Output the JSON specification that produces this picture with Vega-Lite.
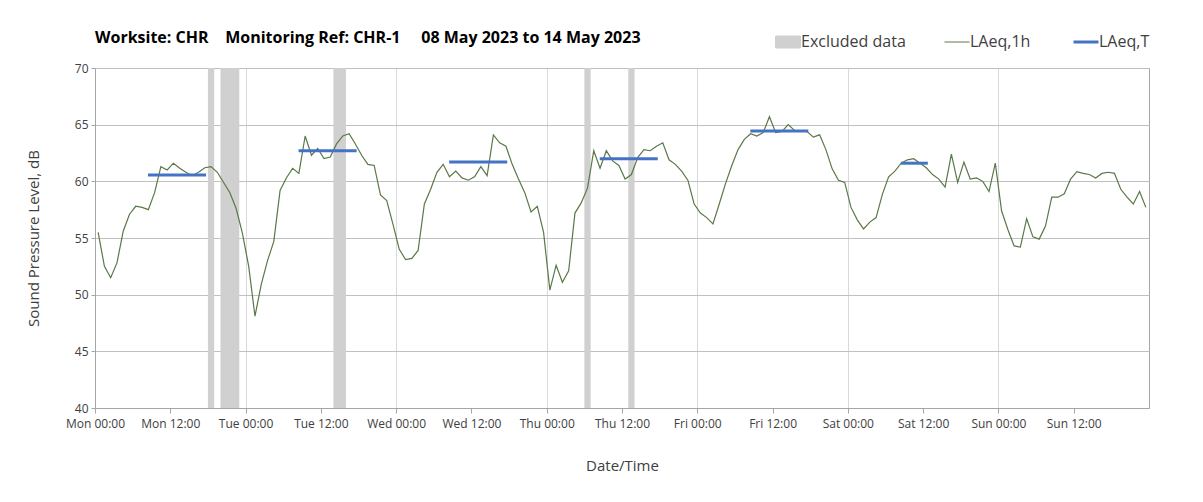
{
  "$schema": "https://vega.github.io/schema/vega-lite/v6.json",
  "width": 1054,
  "height": 340,
  "autosize": {"type": "none"},
  "padding": {"left": 95, "top": 68, "right": 54, "bottom": 94},
  "background": "white",
  "config": {
    "font": "Open Sans",
    "view": {"stroke": "#a6a6a6", "strokeWidth": 1}
  },
  "title": {
    "text": "Worksite: CHR\u00a0\u00a0\u00a0\u00a0Monitoring Ref: CHR-1\u00a0\u00a0\u00a0\u00a0\u00a008 May 2023 to 14 May 2023",
    "anchor": "start",
    "frame": "group",
    "fontSize": 16,
    "fontWeight": "bold",
    "color": "#000000",
    "font": "Open Sans",
    "offset": -12
  },
  "datasets": {
    "excluded": [
      {"s": "2023-05-08T18:00:00Z", "e": "2023-05-08T19:00:00Z"},
      {"s": "2023-05-08T20:00:00Z", "e": "2023-05-08T23:00:00Z"},
      {"s": "2023-05-09T14:00:00Z", "e": "2023-05-09T16:00:00Z"},
      {"s": "2023-05-11T06:00:00Z", "e": "2023-05-11T07:00:00Z"},
      {"s": "2023-05-11T13:00:00Z", "e": "2023-05-11T14:00:00Z"}
    ],
    "laeqT": [
      {"s": "2023-05-08T08:27:00Z", "e": "2023-05-08T17:42:00Z", "v": 60.55},
      {"s": "2023-05-09T08:27:00Z", "e": "2023-05-09T17:42:00Z", "v": 62.7},
      {"s": "2023-05-10T08:27:00Z", "e": "2023-05-10T17:42:00Z", "v": 61.7},
      {"s": "2023-05-11T08:27:00Z", "e": "2023-05-11T17:42:00Z", "v": 62.0},
      {"s": "2023-05-12T08:27:00Z", "e": "2023-05-12T17:42:00Z", "v": 64.45},
      {"s": "2023-05-13T08:27:00Z", "e": "2023-05-13T12:45:00Z", "v": 61.6}
    ],
    "laeq1h": [
      {"t": "2023-05-08T00:30:00Z", "v": 55.5}, {"t": "2023-05-08T01:30:00Z", "v": 52.5}, {"t": "2023-05-08T02:30:00Z", "v": 51.5}, {"t": "2023-05-08T03:30:00Z", "v": 52.8},
      {"t": "2023-05-08T04:30:00Z", "v": 55.6}, {"t": "2023-05-08T05:30:00Z", "v": 57.1}, {"t": "2023-05-08T06:30:00Z", "v": 57.8}, {"t": "2023-05-08T07:30:00Z", "v": 57.7},
      {"t": "2023-05-08T08:30:00Z", "v": 57.5}, {"t": "2023-05-08T09:30:00Z", "v": 59.0}, {"t": "2023-05-08T10:30:00Z", "v": 61.3}, {"t": "2023-05-08T11:30:00Z", "v": 61.0},
      {"t": "2023-05-08T12:30:00Z", "v": 61.6}, {"t": "2023-05-08T13:30:00Z", "v": 61.15}, {"t": "2023-05-08T14:30:00Z", "v": 60.8}, {"t": "2023-05-08T15:30:00Z", "v": 60.5},
      {"t": "2023-05-08T16:30:00Z", "v": 60.8}, {"t": "2023-05-08T17:30:00Z", "v": 61.2}, {"t": "2023-05-08T18:30:00Z", "v": 61.3}, {"t": "2023-05-08T19:30:00Z", "v": 60.8},
      {"t": "2023-05-08T20:30:00Z", "v": 59.9}, {"t": "2023-05-08T21:30:00Z", "v": 59.0}, {"t": "2023-05-08T22:30:00Z", "v": 57.6}, {"t": "2023-05-08T23:30:00Z", "v": 55.4},
      {"t": "2023-05-09T00:30:00Z", "v": 52.5}, {"t": "2023-05-09T01:30:00Z", "v": 48.1}, {"t": "2023-05-09T02:30:00Z", "v": 50.9}, {"t": "2023-05-09T03:30:00Z", "v": 53.0},
      {"t": "2023-05-09T04:30:00Z", "v": 54.7}, {"t": "2023-05-09T05:30:00Z", "v": 59.2}, {"t": "2023-05-09T06:30:00Z", "v": 60.3}, {"t": "2023-05-09T07:30:00Z", "v": 61.15},
      {"t": "2023-05-09T08:30:00Z", "v": 60.7}, {"t": "2023-05-09T09:30:00Z", "v": 64.0}, {"t": "2023-05-09T10:30:00Z", "v": 62.3}, {"t": "2023-05-09T11:30:00Z", "v": 62.9},
      {"t": "2023-05-09T12:30:00Z", "v": 62.0}, {"t": "2023-05-09T13:30:00Z", "v": 62.15}, {"t": "2023-05-09T14:30:00Z", "v": 63.3}, {"t": "2023-05-09T15:30:00Z", "v": 64.0},
      {"t": "2023-05-09T16:30:00Z", "v": 64.2}, {"t": "2023-05-09T17:30:00Z", "v": 63.3}, {"t": "2023-05-09T18:30:00Z", "v": 62.3}, {"t": "2023-05-09T19:30:00Z", "v": 61.5},
      {"t": "2023-05-09T20:30:00Z", "v": 61.4}, {"t": "2023-05-09T21:30:00Z", "v": 58.8}, {"t": "2023-05-09T22:30:00Z", "v": 58.3}, {"t": "2023-05-09T23:30:00Z", "v": 56.2},
      {"t": "2023-05-10T00:30:00Z", "v": 54.0}, {"t": "2023-05-10T01:30:00Z", "v": 53.1}, {"t": "2023-05-10T02:30:00Z", "v": 53.2}, {"t": "2023-05-10T03:30:00Z", "v": 53.9},
      {"t": "2023-05-10T04:30:00Z", "v": 58.0}, {"t": "2023-05-10T05:30:00Z", "v": 59.3}, {"t": "2023-05-10T06:30:00Z", "v": 60.8}, {"t": "2023-05-10T07:30:00Z", "v": 61.5},
      {"t": "2023-05-10T08:30:00Z", "v": 60.4}, {"t": "2023-05-10T09:30:00Z", "v": 60.9}, {"t": "2023-05-10T10:30:00Z", "v": 60.3}, {"t": "2023-05-10T11:30:00Z", "v": 60.1},
      {"t": "2023-05-10T12:30:00Z", "v": 60.4}, {"t": "2023-05-10T13:30:00Z", "v": 61.3}, {"t": "2023-05-10T14:30:00Z", "v": 60.5}, {"t": "2023-05-10T15:30:00Z", "v": 64.1},
      {"t": "2023-05-10T16:30:00Z", "v": 63.4}, {"t": "2023-05-10T17:30:00Z", "v": 63.1}, {"t": "2023-05-10T18:30:00Z", "v": 61.5}, {"t": "2023-05-10T19:30:00Z", "v": 60.2},
      {"t": "2023-05-10T20:30:00Z", "v": 59.0}, {"t": "2023-05-10T21:30:00Z", "v": 57.3}, {"t": "2023-05-10T22:30:00Z", "v": 57.8}, {"t": "2023-05-10T23:30:00Z", "v": 55.5},
      {"t": "2023-05-11T00:30:00Z", "v": 50.4}, {"t": "2023-05-11T01:30:00Z", "v": 52.6}, {"t": "2023-05-11T02:30:00Z", "v": 51.1}, {"t": "2023-05-11T03:30:00Z", "v": 52.1},
      {"t": "2023-05-11T04:30:00Z", "v": 57.2}, {"t": "2023-05-11T05:30:00Z", "v": 58.1}, {"t": "2023-05-11T06:30:00Z", "v": 59.4}, {"t": "2023-05-11T07:30:00Z", "v": 62.7},
      {"t": "2023-05-11T08:30:00Z", "v": 61.15}, {"t": "2023-05-11T09:30:00Z", "v": 62.7}, {"t": "2023-05-11T10:30:00Z", "v": 61.8}, {"t": "2023-05-11T11:30:00Z", "v": 61.4},
      {"t": "2023-05-11T12:30:00Z", "v": 60.2}, {"t": "2023-05-11T13:30:00Z", "v": 60.6}, {"t": "2023-05-11T14:30:00Z", "v": 62.1}, {"t": "2023-05-11T15:30:00Z", "v": 62.8},
      {"t": "2023-05-11T16:30:00Z", "v": 62.7}, {"t": "2023-05-11T17:30:00Z", "v": 63.1}, {"t": "2023-05-11T18:30:00Z", "v": 63.4}, {"t": "2023-05-11T19:30:00Z", "v": 61.9},
      {"t": "2023-05-11T20:30:00Z", "v": 61.5}, {"t": "2023-05-11T21:30:00Z", "v": 60.9}, {"t": "2023-05-11T22:30:00Z", "v": 60.1}, {"t": "2023-05-11T23:30:00Z", "v": 58.0},
      {"t": "2023-05-12T00:30:00Z", "v": 57.2}, {"t": "2023-05-12T01:30:00Z", "v": 56.8}, {"t": "2023-05-12T02:30:00Z", "v": 56.25}, {"t": "2023-05-12T03:30:00Z", "v": 58.0},
      {"t": "2023-05-12T04:30:00Z", "v": 59.8}, {"t": "2023-05-12T05:30:00Z", "v": 61.4}, {"t": "2023-05-12T06:30:00Z", "v": 62.8}, {"t": "2023-05-12T07:30:00Z", "v": 63.7},
      {"t": "2023-05-12T08:30:00Z", "v": 64.2}, {"t": "2023-05-12T09:30:00Z", "v": 64.0}, {"t": "2023-05-12T10:30:00Z", "v": 64.3}, {"t": "2023-05-12T11:30:00Z", "v": 65.7},
      {"t": "2023-05-12T12:30:00Z", "v": 64.3}, {"t": "2023-05-12T13:30:00Z", "v": 64.4}, {"t": "2023-05-12T14:30:00Z", "v": 65.0}, {"t": "2023-05-12T15:30:00Z", "v": 64.5},
      {"t": "2023-05-12T16:30:00Z", "v": 64.45}, {"t": "2023-05-12T17:30:00Z", "v": 64.4}, {"t": "2023-05-12T18:30:00Z", "v": 63.9}, {"t": "2023-05-12T19:30:00Z", "v": 64.1},
      {"t": "2023-05-12T20:30:00Z", "v": 62.8}, {"t": "2023-05-12T21:30:00Z", "v": 61.1}, {"t": "2023-05-12T22:30:00Z", "v": 60.1}, {"t": "2023-05-12T23:30:00Z", "v": 59.9},
      {"t": "2023-05-13T00:30:00Z", "v": 57.7}, {"t": "2023-05-13T01:30:00Z", "v": 56.6}, {"t": "2023-05-13T02:30:00Z", "v": 55.8}, {"t": "2023-05-13T03:30:00Z", "v": 56.4},
      {"t": "2023-05-13T04:30:00Z", "v": 56.8}, {"t": "2023-05-13T05:30:00Z", "v": 58.85}, {"t": "2023-05-13T06:30:00Z", "v": 60.4}, {"t": "2023-05-13T07:30:00Z", "v": 60.9},
      {"t": "2023-05-13T08:30:00Z", "v": 61.6}, {"t": "2023-05-13T09:30:00Z", "v": 61.9}, {"t": "2023-05-13T10:30:00Z", "v": 62.0}, {"t": "2023-05-13T11:30:00Z", "v": 61.6},
      {"t": "2023-05-13T12:30:00Z", "v": 61.2}, {"t": "2023-05-13T13:30:00Z", "v": 60.6}, {"t": "2023-05-13T14:30:00Z", "v": 60.2}, {"t": "2023-05-13T15:30:00Z", "v": 59.5},
      {"t": "2023-05-13T16:30:00Z", "v": 62.4}, {"t": "2023-05-13T17:30:00Z", "v": 59.9}, {"t": "2023-05-13T18:30:00Z", "v": 61.7}, {"t": "2023-05-13T19:30:00Z", "v": 60.2},
      {"t": "2023-05-13T20:30:00Z", "v": 60.3}, {"t": "2023-05-13T21:30:00Z", "v": 60.0}, {"t": "2023-05-13T22:30:00Z", "v": 59.1}, {"t": "2023-05-13T23:30:00Z", "v": 61.6},
      {"t": "2023-05-14T00:30:00Z", "v": 57.4}, {"t": "2023-05-14T01:30:00Z", "v": 55.75}, {"t": "2023-05-14T02:30:00Z", "v": 54.3}, {"t": "2023-05-14T03:30:00Z", "v": 54.2},
      {"t": "2023-05-14T04:30:00Z", "v": 56.7}, {"t": "2023-05-14T05:30:00Z", "v": 55.1}, {"t": "2023-05-14T06:30:00Z", "v": 54.9}, {"t": "2023-05-14T07:30:00Z", "v": 56.05},
      {"t": "2023-05-14T08:30:00Z", "v": 58.6}, {"t": "2023-05-14T09:30:00Z", "v": 58.6}, {"t": "2023-05-14T10:30:00Z", "v": 58.9}, {"t": "2023-05-14T11:30:00Z", "v": 60.2},
      {"t": "2023-05-14T12:30:00Z", "v": 60.85}, {"t": "2023-05-14T13:30:00Z", "v": 60.7}, {"t": "2023-05-14T14:30:00Z", "v": 60.6}, {"t": "2023-05-14T15:30:00Z", "v": 60.3},
      {"t": "2023-05-14T16:30:00Z", "v": 60.7}, {"t": "2023-05-14T17:30:00Z", "v": 60.8}, {"t": "2023-05-14T18:30:00Z", "v": 60.7}, {"t": "2023-05-14T19:30:00Z", "v": 59.3},
      {"t": "2023-05-14T20:30:00Z", "v": 58.6}, {"t": "2023-05-14T21:30:00Z", "v": 58.0}, {"t": "2023-05-14T22:30:00Z", "v": 59.1}, {"t": "2023-05-14T23:30:00Z", "v": 57.7}
    ]
  },
  "layer": [
    {
      "data": {"name": "excluded"},
      "mark": {"type": "rect"},
      "encoding": {
        "x": {
          "field": "s",
          "type": "temporal",
          "scale": {
            "type": "utc",
            "domain": [
              {"year": 2023, "month": 5, "date": 8, "hours": 0, "utc": true},
              {"year": 2023, "month": 5, "date": 15, "hours": 0, "utc": true}
            ]
          },
          "axis": {
            "orient": "bottom",
            "values": [
              {"year": 2023, "month": 5, "date": 8, "hours": 0, "utc": true},
              {"year": 2023, "month": 5, "date": 8, "hours": 12, "utc": true},
              {"year": 2023, "month": 5, "date": 9, "hours": 0, "utc": true},
              {"year": 2023, "month": 5, "date": 9, "hours": 12, "utc": true},
              {"year": 2023, "month": 5, "date": 10, "hours": 0, "utc": true},
              {"year": 2023, "month": 5, "date": 10, "hours": 12, "utc": true},
              {"year": 2023, "month": 5, "date": 11, "hours": 0, "utc": true},
              {"year": 2023, "month": 5, "date": 11, "hours": 12, "utc": true},
              {"year": 2023, "month": 5, "date": 12, "hours": 0, "utc": true},
              {"year": 2023, "month": 5, "date": 12, "hours": 12, "utc": true},
              {"year": 2023, "month": 5, "date": 13, "hours": 0, "utc": true},
              {"year": 2023, "month": 5, "date": 13, "hours": 12, "utc": true},
              {"year": 2023, "month": 5, "date": 14, "hours": 0, "utc": true},
              {"year": 2023, "month": 5, "date": 14, "hours": 12, "utc": true}
            ],
            "labelExpr": "utcFormat(datum.value, '%a %H:%M')",
            "grid": true,
            "gridColor": "#d9d9d9",
            "gridOpacity": {"condition": {"test": "utchours(datum.value) === 0", "value": 1}, "value": 0},
            "labelFontSize": 12,
            "labelColor": "#404040",
            "labelPadding": 5,
            "labelFlush": false,
            "labelOverlap": false,
            "tickColor": "#a6a6a6",
            "tickSize": 5,
            "domainColor": "#a6a6a6",
            "title": "Date/Time",
            "titleFontSize": 15,
            "titleFontWeight": "normal",
            "titleColor": "#404040",
            "titlePadding": 29
          }
        },
        "x2": {"field": "e"},
        "color": {
          "datum": "Excluded data",
          "scale": {
            "domain": ["Excluded data", "LAeq,1h", "LAeq,T"],
            "range": ["#d0d0d0", "#5a7848", "#4472c4"]
          },
          "legend": {
            "orient": "none",
            "legendX": 685,
            "legendY": -34,
            "direction": "horizontal",
            "title": null,
            "labelFontSize": 16,
            "labelColor": "#404040",
            "labelOffset": 5,
            "symbolSize": 625,
            "columnPadding": 36,
            "gridAlign": "none",
            "encode": {
              "symbols": {
                "update": {
                  "shape": {"signal": "datum.value === 'Excluded data' ? 'M-1,-0.48H1V0.48H-1Z' : 'M-1,0H1'"},
                  "fill": {"signal": "datum.value === 'Excluded data' ? '#d0d0d0' : 'transparent'"},
                  "stroke": {"signal": "datum.value === 'Excluded data' ? 'transparent' : (datum.value === 'LAeq,1h' ? '#5a7848' : '#4472c4')"},
                  "strokeWidth": {"signal": "datum.value === 'LAeq,T' ? 3 : 1"},
                  "size": {"value": 625},
                  "opacity": {"value": 1}
                }
              }
            }
          }
        }
      }
    },
    {
      "data": {"name": "laeq1h"},
      "mark": {"type": "line", "strokeWidth": 1.2},
      "encoding": {
        "x": {"field": "t", "type": "temporal"},
        "y": {
          "field": "v",
          "type": "quantitative",
          "scale": {"domain": [40, 70], "nice": false, "zero": false},
          "axis": {
            "values": [40, 45, 50, 55, 60, 65, 70],
            "grid": true,
            "gridColor": "#c0c0c0",
            "tickSize": 4,
            "tickColor": "#a6a6a6",
            "domainColor": "#a6a6a6",
            "labelFontSize": 12,
            "labelColor": "#404040",
            "labelPadding": 3,
            "title": "Sound Pressure Level, dB",
            "titleFontSize": 15,
            "titleFontWeight": "normal",
            "titleColor": "#404040",
            "titlePadding": 33
          }
        },
        "color": {"datum": "LAeq,1h"}
      }
    },
    {
      "data": {"name": "laeqT"},
      "mark": {"type": "rule", "strokeWidth": 3},
      "encoding": {
        "x": {"field": "s", "type": "temporal"},
        "x2": {"field": "e"},
        "y": {"field": "v", "type": "quantitative"},
        "color": {"datum": "LAeq,T"}
      }
    }
  ]
}
